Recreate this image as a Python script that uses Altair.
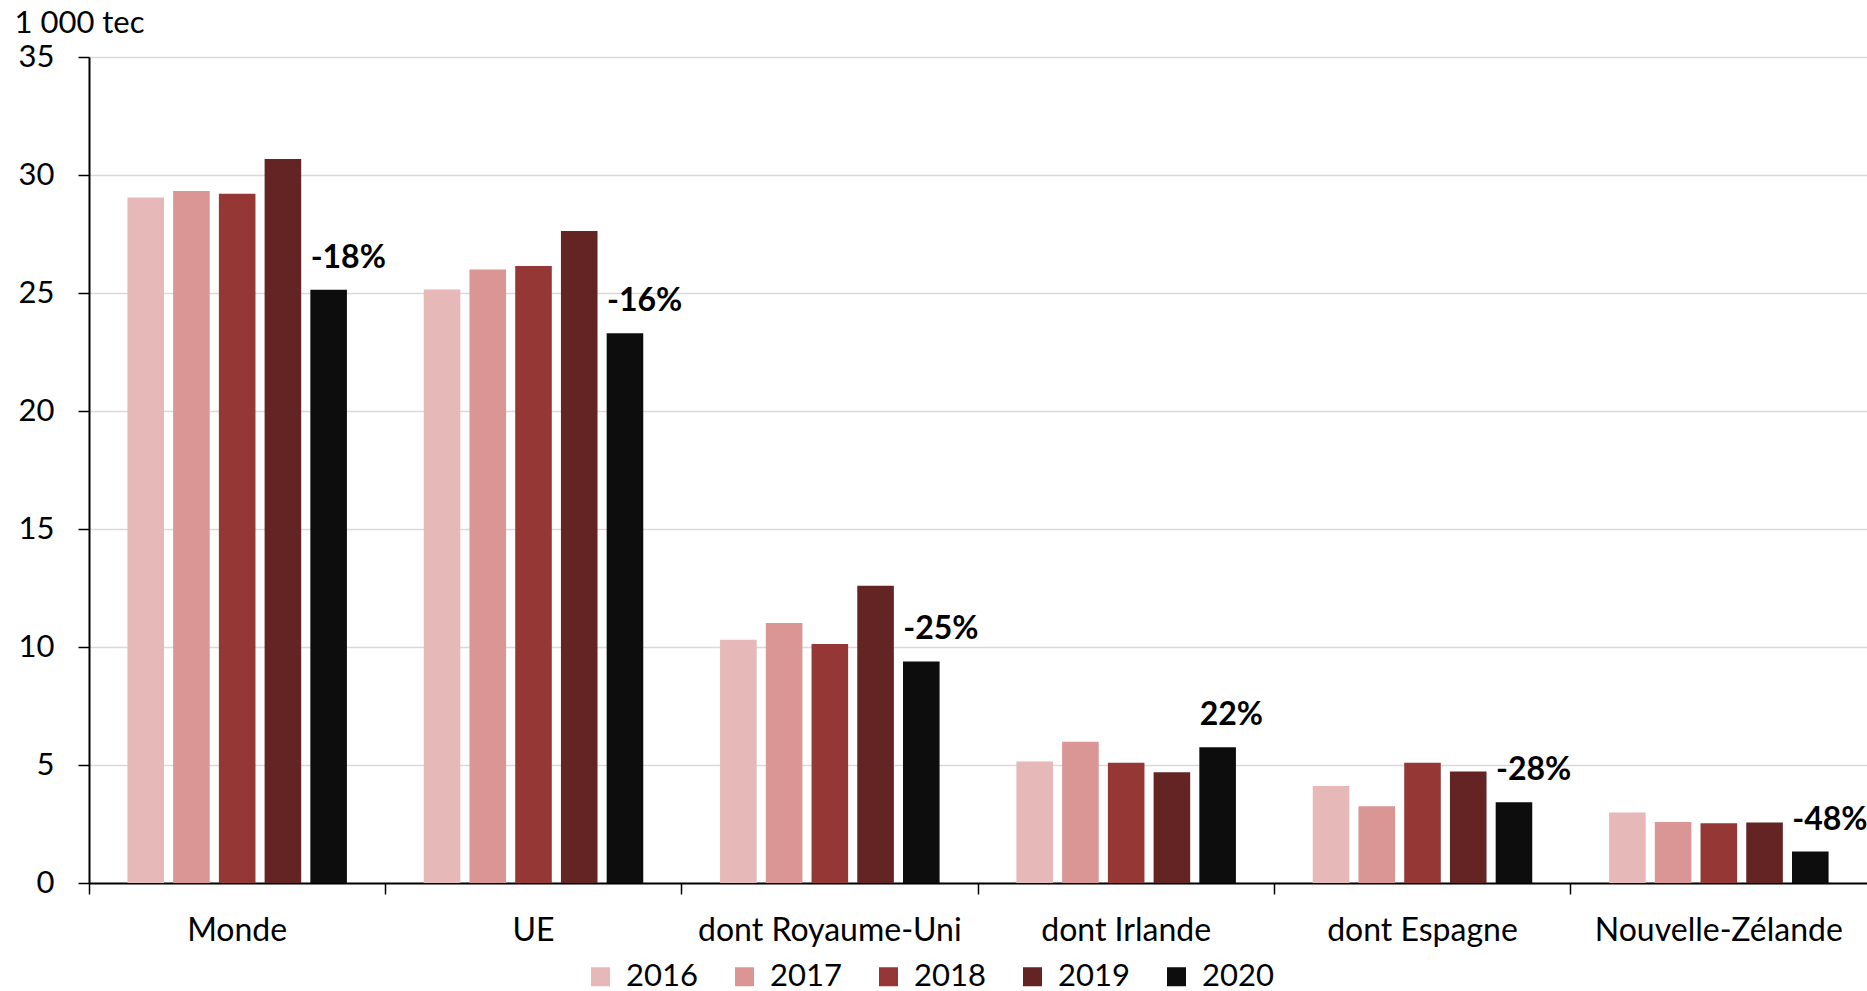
import altair as alt
import pandas as pd

categories = ["Monde", "UE", "dont Royaume-Uni", "dont Irlande", "dont Espagne", "Nouvelle-Zélande"]
years = ["2016", "2017", "2018", "2019", "2020"]
v2016 = [29.05, 25.15, 10.31, 5.15, 4.11, 2.99]
v2017 = [29.32, 26.00, 11.02, 5.99, 3.25, 2.58]
v2018 = [29.21, 26.14, 10.13, 5.10, 5.10, 2.53]
v2019 = [30.68, 27.63, 12.60, 4.69, 4.72, 2.56]
v2020 = [25.14, 23.29, 9.39, 5.75, 3.42, 1.33]
labels = ["-18%", "-16%", "-25%", "22%", "-28%", "-48%"]
colors = ["#e6b9b8", "#d99694", "#953735", "#632423", "#0d0d0d"]

series = [v2016, v2017, v2018, v2019, v2020]
rows = []
for y, vals in zip(years, series):
    for i, c in enumerate(categories):
        rows.append({"cat": c, "year": y, "value": vals[i],
                     "label": labels[i] if y == "2020" else ""})
df = pd.DataFrame(rows)

FONT = "Lato"
W, H = 1778, 826

x_enc = alt.X("cat:N", sort=categories,
              scale=alt.Scale(paddingInner=0, paddingOuter=0),
              axis=alt.Axis(title=None, bandPosition=0,
                            labelAngle=0, labelFontSize=32, labelFont=FONT,
                            labelColor="black", labelBaseline="alphabetic",
                            labelPadding=46, labelLimit=600, labelOverlap=False,
                            domainColor="black", domainWidth=2,
                            tickColor="black", tickWidth=1.5, tickSize=11,
                            grid=False))
xo_enc = alt.XOffset("year:N", sort=years,
                     scale=alt.Scale(paddingInner=0.2, paddingOuter=0.84))
y_enc = alt.Y("value:Q", scale=alt.Scale(domain=[0, 35], nice=False),
              axis=alt.Axis(values=list(range(0, 36, 5)), title="1 000 tec",
                            titleAngle=0, titleAlign="left", titleBaseline="alphabetic",
                            titleX=-75, titleY=-25, titleFontSize=31,
                            titleFontWeight="normal", titleFont=FONT, titleColor="black",
                            labelFontSize=31, labelFont=FONT, labelColor="black",
                            labelPadding=24, domainColor="black", domainWidth=2,
                            tickColor="black", tickWidth=1.5, tickSize=11,
                            gridColor="#d9d9d9", gridWidth=1.5))

bars = alt.Chart(df).mark_bar().encode(
    x=x_enc, xOffset=xo_enc, y=y_enc,
    color=alt.Color("year:N", sort=years,
                    scale=alt.Scale(domain=years, range=colors),
                    legend=alt.Legend(title=None, orient="none", direction="horizontal",
                                      legendX=496, legendY=904, symbolType="square",
                                      symbolSize=361, symbolStrokeWidth=0,
                                      labelFontSize=31, labelFont=FONT, labelColor="black",
                                      columnPadding=31, labelOffset=10, padding=0))
)

text = alt.Chart(df).transform_filter(alt.datum.year == "2020").mark_text(
    align="left", baseline="alphabetic", dx=-18, dy=-22,
    fontSize=32, fontWeight="bold", font=FONT, color="black"
).encode(x=x_enc, xOffset=xo_enc, y=y_enc, text="label:N")

chart = alt.layer(bars, text).properties(
    width=W, height=H,
    autosize=alt.AutoSizeParams(type="none"),
    padding={"left": 89, "top": 57, "right": 0, "bottom": 108},
).configure_view(stroke=None)

chart.save("out.html", embed_options={"renderer": "svg", "actions": False})
